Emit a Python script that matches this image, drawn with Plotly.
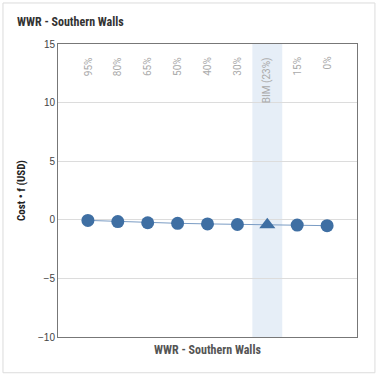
import plotly.graph_objects as go

categories = ["95%", "80%", "65%", "50%", "40%", "30%", "BIM (23%)", "15%", "0%"]
values = [-0.05, -0.15, -0.25, -0.3, -0.35, -0.4, -0.42, -0.45, -0.5]
symbols = ["circle"] * 6 + ["triangle-up"] + ["circle"] * 2
highlight = "BIM (23%)"
y_ticks = [-10, -5, 0, 5, 10, 15]

xs = list(range(len(categories)))
hi = categories.index(highlight)
col = "#3f6fa3"
narrow = "Liberation Sans Narrow, Roboto Condensed, Liberation Sans"
sizes = [14 if s == "triangle-up" else 13 for s in symbols]

fig = go.Figure()
fig.add_trace(go.Scatter(
    x=xs, y=values, mode="lines+markers", opacity=1,
    line=dict(color="#7a9cc4", width=1),
    marker=dict(color=col, size=sizes, symbol=symbols, opacity=1, line=dict(width=0)),
    hoverinfo="skip", showlegend=False))

fig.add_vrect(x0=hi - 0.5, x1=hi + 0.5, fillcolor="#e6eef7", line_width=0, layer="below")

for i, c in enumerate(categories):
    fig.add_annotation(x=i, y=0.963, xref="x", yref="paper", text=c, textangle=-90,
                       showarrow=False, yanchor="top", xanchor="center",
                       font=dict(family="Roboto, Liberation Sans", size=10, color="#aaaaaa"))

# card border
fig.add_shape(type="rect", xref="paper", yref="paper", x0=-0.184, x1=1.06, y0=-0.122, y1=1.14,
              line=dict(color="#dcdcdc", width=1), fillcolor="rgba(0,0,0,0)")

fig.update_layout(
    width=376, height=376,
    margin=dict(l=58, r=19, t=44, b=39),
    paper_bgcolor="white", plot_bgcolor="white",
    title=dict(text="<b>WWR - Southern Walls</b>", x=17 / 376, xanchor="left", y=1 - 22 / 376, yanchor="middle",
               font=dict(family=narrow, size=12, color="#333")),
    xaxis=dict(range=[-1, len(categories)], showticklabels=False, showgrid=False, zeroline=False,
               showline=True, linecolor="#777", linewidth=1, mirror=True, ticks="",
               title=dict(text="<b>WWR - Southern Walls</b>", standoff=8,
                          font=dict(family=narrow, size=12, color="#555"))),
    yaxis=dict(range=[-10, 15], tickvals=y_ticks, showgrid=True, gridcolor="#dcdcdc", zeroline=False,
               showline=True, linecolor="#777", linewidth=1, mirror=True,
               tickfont=dict(family="Liberation Sans", size=10, color="#444"),
               title=dict(text="<b>Cost • f (USD)</b>", standoff=10,
                          font=dict(family=narrow, size=11, color="#222"))),
)
fig.write_html("out.html", config={"displayModeBar": False},
               post_script="document.body.style.margin='0';document.body.style.padding='0';")
